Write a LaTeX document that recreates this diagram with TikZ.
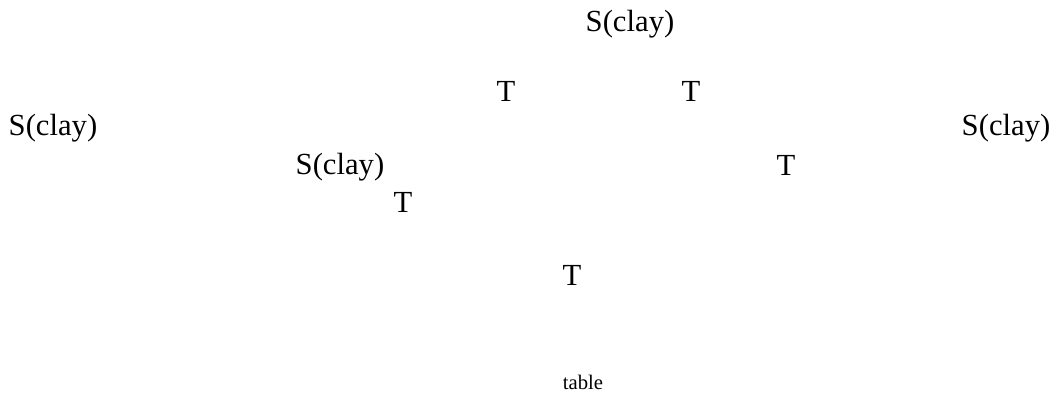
\documentclass[tikz,border=0pt]{standalone}
\usepackage{fontspec}
\setmainfont{Liberation Serif}
\usepackage{tikz}

\begin{document}
\begin{tikzpicture}[x=0.75pt,y=-0.75pt,
  lbl/.style={inner sep=0pt,font=\fontsize{23}{27}\selectfont},
  small/.style={inner sep=0pt,font=\fontsize{15.5}{18}\selectfont}]
\useasboundingbox (0,0) rectangle (1062,394);
\node [lbl] (root) at (630,24) {S(clay)};
\node [lbl] (tl) at (506,91) {T};
\node [lbl] (tr) at (691,91) {T};
\node [lbl] (sl) at (53,128) {S(clay)};
\node [lbl] (sr) at (1006,128) {S(clay)};
\node [lbl] (sm) at (340,167) {S(clay)};
\node [lbl] (trr) at (786,165) {T};
\node [lbl] (tll) at (403,202) {T};
\node [lbl] (tb) at (572,275) {T};
\node [small] (tab) at (583,382) {table};
\end{tikzpicture}
\end{document}
